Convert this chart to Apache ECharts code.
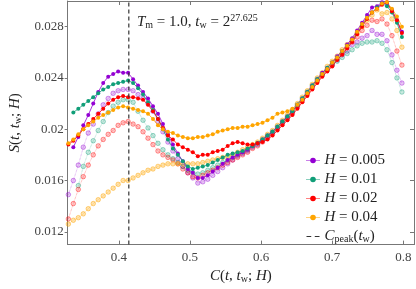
<!DOCTYPE html>
<html><head><meta charset="utf-8">
<script src="https://cdn.jsdelivr.net/npm/echarts@6/dist/echarts.min.js"></script>
<style>html,body{margin:0;padding:0;background:#fff}#c{width:416px;height:289px}</style>
</head><body><div id="c"></div>
<script>
// C grid (x values)
const cGrid = [0.329,0.336,0.343,0.350,0.357,0.364,0.371,0.378,0.385,0.392,0.399,0.406,0.413,0.420,0.427,0.434,0.441,0.448,0.455,0.462,0.469,0.476,0.483,0.490,0.497,0.504,0.511,0.518,0.525,0.532,0.539,0.546,0.553,0.560,0.567,0.574,0.581,0.588,0.595,0.602,0.609,0.616,0.623,0.630,0.637,0.644,0.651,0.658,0.665,0.672,0.679,0.686,0.693,0.700,0.707,0.714,0.721,0.728,0.735,0.742,0.749,0.756,0.763,0.770,0.777,0.784,0.791,0.798];
// solid series
const sH005 = [null,0.0186,0.0194,0.0203,0.0211,0.0220,0.0229,0.0236,0.0241,0.0243,0.0245,0.0244,0.0244,0.0239,0.0234,0.0229,0.0224,0.0218,0.0212,0.0204,0.0196,0.0188,0.0181,0.0175,0.0169,0.0166,0.0162,0.0162,0.0164,0.0167,0.0170,0.0173,0.0176,0.0178,0.0180,0.0182,0.0184,0.0187,0.0189,0.0192,0.0195,0.0198,0.0202,0.0206,0.0210,0.0214,0.0219,0.0224,0.0229,0.0234,0.0239,0.0244,0.0248,0.0252,0.0257,0.0261,0.0266,0.0271,0.0277,0.0283,0.0289,0.0295,0.0296,0.0299,0.0298,0.0293,0.0285,0.0276];
const sH01 = [null,0.0213,0.0216,0.0219,0.0222,0.0225,0.0228,0.0231,0.0233,0.0235,0.0236,0.0237,0.0238,0.0236,0.0232,0.0227,0.0221,0.0215,0.0208,0.0200,0.0192,0.0185,0.0180,0.0175,0.0171,0.0169,0.0170,0.0171,0.0172,0.0174,0.0176,0.0178,0.0180,0.0181,0.0182,0.0183,0.0185,0.0187,0.0189,0.0192,0.0195,0.0198,0.0202,0.0206,0.0210,0.0214,0.0219,0.0224,0.0229,0.0234,0.0239,0.0243,0.0248,0.0252,0.0256,0.0261,0.0265,0.0269,0.0275,0.0281,0.0287,0.0291,0.0295,0.0298,0.0296,0.0291,0.0283,0.0272];
const sH02 = [0.0188,0.0191,0.0195,0.0200,0.0204,0.0208,0.0212,0.0216,0.0220,0.0223,0.0225,0.0226,0.0225,0.0225,0.0224,0.0223,0.0219,0.0214,0.0208,0.0201,0.0195,0.0192,0.0188,0.0186,0.0184,0.0182,0.0179,0.0180,0.0180,0.0182,0.0183,0.0184,0.0187,0.0189,0.0190,0.0189,0.0188,0.0188,0.0189,0.0190,0.0192,0.0195,0.0199,0.0203,0.0207,0.0211,0.0216,0.0221,0.0226,0.0231,0.0236,0.0241,0.0245,0.0249,0.0254,0.0258,0.0263,0.0268,0.0274,0.0280,0.0286,0.0291,0.0294,0.0297,0.0299,0.0292,0.0285,0.0275];
const sH04 = [0.0189,0.0192,0.0196,0.0200,0.0203,0.0206,0.0209,0.0211,0.0213,0.0215,0.0217,0.0218,0.0217,0.0216,0.0215,0.0214,0.0212,0.0208,0.0203,0.0200,0.0198,0.0197,0.0195,0.0194,0.0193,0.0193,0.0194,0.0194,0.0195,0.0196,0.0198,0.0199,0.0200,0.0201,0.0201,0.0202,0.0202,0.0203,0.0204,0.0205,0.0207,0.0209,0.0212,0.0213,0.0214,0.0216,0.0219,0.0223,0.0228,0.0233,0.0238,0.0243,0.0247,0.0252,0.0256,0.0261,0.0265,0.0270,0.0276,0.0282,0.0287,0.0291,0.0294,0.0298,0.0299,0.0294,0.0288,0.0280];
// faded series
const fH005 = [0.0149,0.0160,0.0172,0.0186,0.0197,0.0204,0.0212,0.0219,0.0224,0.0228,0.0230,0.0231,0.0231,0.0230,0.0227,0.0224,0.0220,0.0214,0.0206,0.0198,0.0190,0.0183,0.0177,0.0171,0.0166,0.0162,0.0158,0.0159,0.0161,0.0164,0.0167,0.0170,0.0173,0.0176,0.0179,0.0181,0.0183,0.0186,0.0188,0.0191,0.0194,0.0197,0.0201,0.0205,0.0209,0.0213,0.0218,0.0223,0.0228,0.0233,0.0238,0.0243,0.0247,0.0250,0.0254,0.0258,0.0261,0.0266,0.0268,0.0271,0.0273,0.0277,0.0274,0.0274,0.0269,0.0258,0.0246,0.0236];
const fH01 = [null,null,0.0156,0.0171,0.0182,0.0191,0.0199,0.0206,0.0213,0.0218,0.0221,0.0223,0.0223,0.0221,0.0214,0.0207,0.0201,0.0195,0.0189,0.0184,0.0180,0.0177,0.0174,0.0171,0.0168,0.0166,0.0165,0.0166,0.0168,0.0170,0.0172,0.0174,0.0176,0.0178,0.0180,0.0182,0.0184,0.0187,0.0189,0.0192,0.0195,0.0198,0.0202,0.0206,0.0210,0.0214,0.0219,0.0224,0.0229,0.0234,0.0239,0.0242,0.0246,0.0250,0.0253,0.0256,0.0259,0.0262,0.0265,0.0267,0.0268,0.0268,0.0269,0.0267,0.0262,0.0252,0.0240,0.0229];
const fH02 = [0.0130,0.0142,0.0153,0.0163,0.0172,0.0180,0.0187,0.0192,0.0196,0.0199,0.0203,0.0205,0.0206,0.0204,0.0202,0.0198,0.0193,0.0188,0.0183,0.0180,0.0178,0.0176,0.0173,0.0169,0.0166,0.0163,0.0162,0.0164,0.0166,0.0168,0.0170,0.0172,0.0174,0.0176,0.0178,0.0180,0.0182,0.0185,0.0187,0.0190,0.0193,0.0196,0.0200,0.0204,0.0208,0.0212,0.0217,0.0222,0.0227,0.0232,0.0237,0.0242,0.0246,0.0250,0.0255,0.0259,0.0264,0.0268,0.0272,0.0277,0.0281,0.0285,0.0284,0.0286,0.0282,0.0273,0.0261,0.0250];
const fH04 = [0.0126,0.0129,0.0131,0.0134,0.0138,0.0142,0.0145,0.0148,0.0151,0.0154,0.0157,0.0160,0.0160,0.0162,0.0164,0.0166,0.0168,0.0169,0.0171,0.0172,0.0173,0.0173,0.0173,0.0173,0.0173,0.0173,0.0173,0.0174,0.0175,0.0176,0.0177,0.0178,0.0179,0.0180,0.0182,0.0184,0.0186,0.0188,0.0190,0.0193,0.0196,0.0199,0.0203,0.0207,0.0211,0.0215,0.0220,0.0225,0.0230,0.0235,0.0240,0.0244,0.0249,0.0253,0.0257,0.0262,0.0266,0.0270,0.0275,0.0280,0.0285,0.0289,0.0293,0.0290,0.0291,0.0286,0.0277,0.0264];
const cPeak = 0.414;
const xTicks = [0.4,0.5,0.6,0.7,0.8];
const yTicks = [0.012,0.016,0.02,0.024,0.028];
const names = ['H = 0.005','H = 0.01','H = 0.02','H = 0.04'];
const colors = ['#9400d3','#109e78','#ff0000','#ffa500'];
const fadedFill = ['rgba(148,0,211,0.22)','rgba(16,158,120,0.22)','rgba(255,0,0,0.22)','rgba(255,165,0,0.3)'];
const fadedEdge = ['rgba(148,0,211,0.5)','rgba(16,158,120,0.5)','rgba(255,0,0,0.5)','rgba(255,165,0,0.6)'];

const serif = '"Liberation Serif", "DejaVu Serif", serif';
const pts = arr => cGrid.map((c,i)=>[c,arr[i]]).filter(p=>p[1]!=null);
const xMin=0.328, xMax=0.815, yMin=0.011, yMax=0.030;

const series = [];
[fH005,fH01,fH02,fH04].forEach((a,k)=>{
  series.push({type:'line', name:'f'+k, data:pts(a), symbol:'circle', symbolSize:4.5,
    itemStyle:{color:fadedFill[k], borderColor:fadedEdge[k], borderWidth:0.8},
    lineStyle:{width:0.7, type:'dotted', color:fadedEdge[k]}, z:2, silent:true, animation:false});
});
[sH005,sH01,sH02,sH04].forEach((a,k)=>{
  series.push({type:'line', name:names[k], data:pts(a), symbol:'circle', symbolSize:4,
    itemStyle:{color:colors[k]}, lineStyle:{width:0.8, color:colors[k]}, z:3, animation:false});
});
series.push({type:'line', name:'Cpeak', data:[[cPeak,yMin],[cPeak,yMax]], symbol:'circle', showSymbol:false,
  lineStyle:{color:'#333', width:1.2, type:[4,3]}, itemStyle:{color:'#333'}, z:4, animation:false});

const rich = {
  i:{fontFamily:serif, fontStyle:'italic', fontWeight:'normal', fontSize:15, color:'#222'},
  n:{fontFamily:serif, fontWeight:'normal', fontSize:15, color:'#222'},
  s:{fontFamily:serif, fontWeight:'normal', fontSize:10, color:'#222', padding:[6,0,0,0]},
  p:{fontFamily:serif, fontWeight:'normal', fontSize:10, color:'#222', padding:[0,0,8,0]}
};
const legendLabel = {
  'H = 0.005':'{i|H}{n| = 0.005}','H = 0.01':'{i|H}{n| = 0.01}',
  'H = 0.02':'{i|H}{n| = 0.02}','H = 0.04':'{i|H}{n| = 0.04}',
  'Cpeak':'{i|C}{s|peak}{n|(}{i|t}{s|w}{n|)}'
};
const legendData = names.map(n=>({name:n, lineStyle:{type:'dotted', width:1}}))
  .concat([{name:'Cpeak', icon:'path://M0,0L4,0L4,1L0,1Z M7,0L11,0L11,1L7,1Z'}]);
const axisCommon = {axisLine:{show:true, lineStyle:{color:'#777', width:1}}, splitLine:{show:false}};
const option = {
  backgroundColor:'#fff',
  animation:false,
  grid:{left:62, right:2, top:1, bottom:36, containLabel:false},
  title:{text:'{i|T}{s|m}{n| = 1.0, }{i|t}{s|w}{n| = 2}{p|27.625}', left:132, top:8,
    textStyle:{rich:rich, fontWeight:'normal'}},
  legend:{orient:'vertical', left:301, top:148, itemGap:4, itemWidth:13, itemHeight:7,
    data:legendData, formatter:n=>legendLabel[n], textStyle:{rich:rich, fontFamily:serif, color:'#222'},
    selectedMode:false},
  xAxis:[{type:'value', min:xMin, max:xMax, position:'bottom', ...axisCommon,
    name:'{i|C}{n|(}{i|t}{n|, }{i|t}{s|w}{n|; }{i|H}{n|)}', nameLocation:'middle', nameGap:19,
    nameTextStyle:{rich:rich},
    axisTick:{show:true, inside:true, length:4, customValues:xTicks, lineStyle:{color:'#777'}},
    axisLabel:{show:true, customValues:xTicks, fontFamily:serif, fontSize:13, color:'#444', margin:6,
      formatter:v=>String(v)}},
   {type:'value', min:xMin, max:xMax, position:'top', ...axisCommon,
    axisTick:{show:true, inside:true, length:4, customValues:xTicks, lineStyle:{color:'#777'}},
    axisLabel:{show:false}}],
  yAxis:[{type:'value', min:yMin, max:yMax, position:'left', ...axisCommon,
    name:'{i|S}{n|(}{i|t}{n|, }{i|t}{s|w}{n|; }{i|H}{n|)}', nameLocation:'middle', nameGap:42, nameRotate:90,
    nameTextStyle:{rich:rich},
    axisTick:{show:true, inside:false, length:3, customValues:yTicks, lineStyle:{color:'#777'}},
    axisLabel:{show:true, customValues:yTicks, fontFamily:serif, fontSize:13, color:'#444', margin:4,
      formatter:v=>String(+v.toFixed(3))}},
   {type:'value', min:yMin, max:yMax, position:'right', ...axisCommon,
    axisTick:{show:true, inside:true, length:4, customValues:yTicks, lineStyle:{color:'#777'}},
    axisLabel:{show:false}}],
  series:series
};
const chart = echarts.init(document.getElementById('c'), null, {renderer:'canvas'});
chart.setOption(option);
</script></body></html>
